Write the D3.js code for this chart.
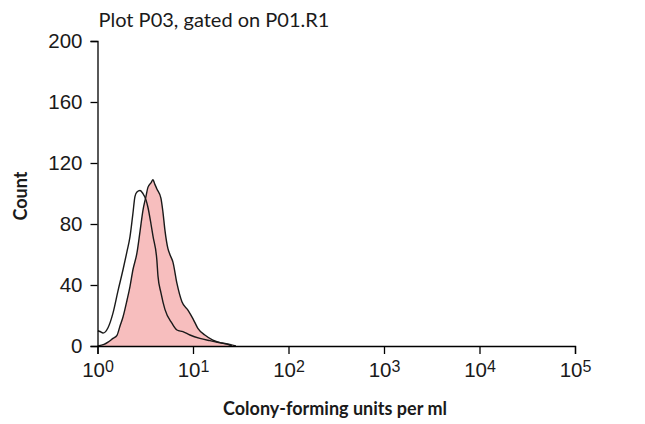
<!DOCTYPE html>
<meta charset="utf-8">
<style>
body { margin: 0; background: #fff; }
svg { display: block; font-family: Lato, "Open Sans", sans-serif; }
.axis path, .axis line { stroke: #000; stroke-width: 1.3; }
.axis text { font-size: 20.5px; fill: #1a1a1a; }
.title { font-size: 20px; fill: #1a1a1a; }
.label { font-size: 18px; font-weight: bold; fill: #1a1a1a; }
</style>
<svg width="645" height="424"></svg>
<script src="https://d3js.org/d3.v7.min.js"></script>
<script>

// histogram bins, log10 of colony-forming units per ml
var ctrlLog = [0.005, 0.026, 0.058, 0.110, 0.162, 0.214, 0.267, 0.309, 0.340, 0.371, 0.392, 0.413, 0.445, 0.476, 0.507, 0.528, 0.560, 0.581, 0.622, 0.633, 0.664, 0.706, 0.779, 0.832, 0.894, 0.968, 1.072, 1.177, 1.281, 1.355, 1.407];
var ctrlCount = [10, 9.5, 8.5, 12, 21.6, 36, 50, 62, 71.5, 87, 98, 101, 102, 100, 96, 91, 80, 72, 56, 46, 35, 24, 15, 10.5, 9.4, 7.2, 5, 3.5, 2.2, 1.3, 0];

var sampleLog = [0.005, 0.068, 0.110, 0.162, 0.204, 0.235, 0.267, 0.309, 0.340, 0.371, 0.413, 0.445, 0.476, 0.507, 0.528, 0.560, 0.581, 0.601, 0.622, 0.664, 0.685, 0.706, 0.737, 0.758, 0.790, 0.832, 0.884, 0.947, 0.999, 1.051, 1.124, 1.208, 1.312, 1.386, 1.449];
var sampleCount = [0, 1, 2.5, 5, 7, 13, 19, 30, 39, 50, 61, 75, 89, 98, 104, 107, 109, 106, 103, 97, 88, 76, 64, 60, 55, 41, 29, 23.6, 18, 11.6, 7.2, 3.9, 1.7, 1.1, 0];

var xTicks = [1, 10, 100, 1000, 10000, 100000];
var yTicks = [0, 40, 80, 120, 160, 200];

var svg = d3.select("svg");

var x = d3.scaleLog().domain([1, 1e5]).range([97.5, 575]);
var y = d3.scaleLinear().domain([0, 200]).range([346, 41]);

var ctrl = ctrlLog.map(function(v, i) { return {x: Math.pow(10, v), y: ctrlCount[i]}; });
var sample = sampleLog.map(function(v, i) { return {x: Math.pow(10, v), y: sampleCount[i]}; });

var area = d3.area()
  .x(function(d) { return x(d.x); })
  .y0(y(0))
  .y1(function(d) { return y(d.y); })
  .curve(d3.curveMonotoneX);
var line = d3.line()
  .x(function(d) { return x(d.x); })
  .y(function(d) { return y(d.y); })
  .curve(d3.curveMonotoneX);

svg.append("path").datum(ctrl).attr("d", area).attr("fill", "#fff");
svg.append("path").datum(sample).attr("d", area).attr("fill", "#f7bebe");
svg.append("path").datum(sample).attr("d", line)
  .attr("fill", "none").attr("stroke", "#1a1a1a").attr("stroke-width", 1.4);
svg.append("path").datum(ctrl).attr("d", line)
  .attr("fill", "none").attr("stroke", "#1a1a1a").attr("stroke-width", 1.4);

// axes
var xAxis = svg.append("g")
  .attr("class", "axis")
  .attr("transform", "translate(0," + y(0) + ")")
  .call(d3.axisBottom(x).tickValues(xTicks).tickSizeOuter(0).tickSize(8).tickFormat(""));
xAxis.selectAll(".tick").append("text")
  .attr("y", 31)
  .attr("text-anchor", "middle")
  .each(function(d) {
    var t = d3.select(this);
    t.append("tspan").text("10");
    t.append("tspan").attr("dy", -5).attr("font-size", "16px").text(Math.round(Math.log10(d)));
  });

svg.append("g")
  .attr("class", "axis")
  .attr("transform", "translate(" + x(1) + ",0)")
  .call(d3.axisLeft(y).tickValues(yTicks).tickSizeOuter(0).tickSize(7).tickPadding(8))
  .selectAll("text").attr("dy", "0.32em");

svg.append("text").attr("class", "title")
  .attr("x", 98.5).attr("y", 26.5)
  .text("Plot P03, gated on P01.R1");

svg.append("text").attr("class", "label")
  .attr("text-anchor", "middle")
  .attr("x", 335).attr("y", 415)
  .text("Colony-forming units per ml");

svg.append("text").attr("class", "label")
  .attr("text-anchor", "middle")
  .attr("font-size", "16.5px")
  .attr("transform", "translate(27,196) rotate(-90)")
  .text("Count");

</script>
